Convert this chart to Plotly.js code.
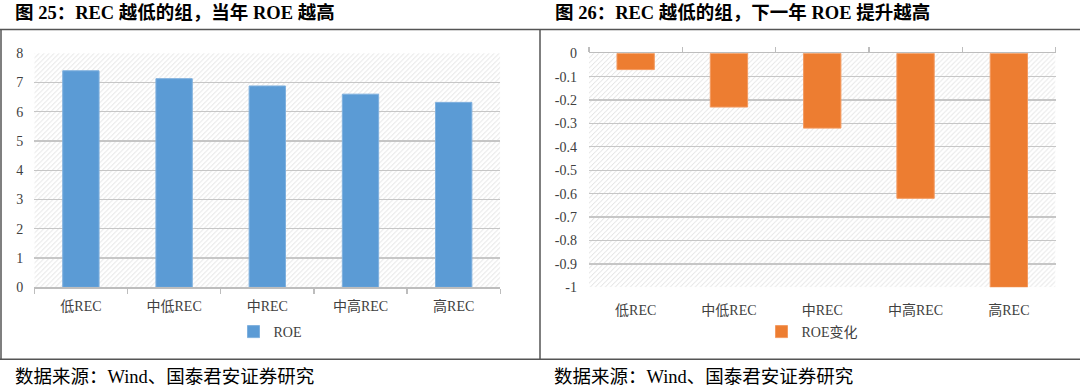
<!DOCTYPE html>
<html>
<head>
<meta charset="utf-8">
<script src="https://cdn.plot.ly/plotly-3.0.1.min.js"></script>
<style>
html,body{margin:0;padding:0;background:#fff;}
#chart{width:1080px;height:389px;}
</style>
</head>
<body>
<div id="chart"></div>
<script>
// ---- data ----
const categories = ['低REC', '中低REC', '中REC', '中高REC', '高REC'];
const roe = [7.40, 7.13, 6.88, 6.60, 6.32];
const roeChange = [-0.07, -0.23, -0.32, -0.62, -1.00];
const leftTickVals = [0, 1, 2, 3, 4, 5, 6, 7, 8];
const rightTickVals = [0, -0.1, -0.2, -0.3, -0.4, -0.5, -0.6, -0.7, -0.8, -0.9, -1];
const rightTickText = ['0', '-0.1', '-0.2', '-0.3', '-0.4', '-0.5', '-0.6', '-0.7', '-0.8', '-0.9', '-1'];
const leftTitle = '图 25：REC 越低的组，当年 ROE 越高';
const rightTitle = '图 26：REC 越低的组，下一年 ROE 提升越高';
const sourceText = '数据来源：Wind、国泰君安证券研究';
const leftSeriesName = 'ROE';
const rightSeriesName = 'ROE变化';

// ---- geometry helpers (pixels -> paper) ----
const W = 1080, H = 389;
const px = x => x / W;
const py = y => 1 - y / H;

const FONT = 'Liberation Serif, Noto Sans CJK SC, serif';
const GRID = '#c6c6c6';
const TXT = '#404040';

const leftDom = [px(34.3), px(500.3)];
const rightDom = [px(589), px(1055.5)];
const yDom = [py(287.3), py(53.2)];

function hatch(wpx, hpx) {
  const svg = '<svg xmlns="http://www.w3.org/2000/svg" width="' + wpx + '" height="' + hpx + '">' +
    '<defs><pattern id="p" width="5" height="5" patternUnits="userSpaceOnUse">' +
    '<path d="M-1,1 l2,-2 M0,5 l5,-5 M4,6 l2,-2" stroke="#d9d9d9" stroke-width="0.8"/></pattern></defs>' +
    '<rect width="100%" height="100%" fill="#ffffff"/><rect width="100%" height="100%" fill="url(#p)"/></svg>';
  return 'data:image/svg+xml;charset=utf-8,' + encodeURIComponent(svg);
}

const traces = [
  {
    type: 'bar', x: categories, y: roe, name: leftSeriesName,
    xaxis: 'x', yaxis: 'y', width: 0.39,
    marker: {color: '#5b9bd5', line: {color: '#7fb0de', width: 1}},
    legend: 'legend', hoverinfo: 'x+y'
  },
  {
    type: 'bar', x: categories, y: roeChange, name: rightSeriesName,
    xaxis: 'x2', yaxis: 'y2', width: 0.4,
    marker: {color: '#ed7d31', line: {color: '#f39a60', width: 1}},
    legend: 'legend2', hoverinfo: 'x+y'
  },
  {
    type: 'bar', x: categories, y: roeChange, name: 'axis-helper',
    xaxis: 'x3', yaxis: 'y2', width: 0.4,
    marker: {color: 'rgba(0,0,0,0)'}, showlegend: false, hoverinfo: 'skip'
  }
];

const axisFont = {family: FONT, size: 14, color: TXT};

const layout = {
  width: W, height: H,
  font: {family: FONT, size: 14, color: TXT},
  margin: {l: 0, r: 0, t: 0, b: 0},
  paper_bgcolor: '#ffffff',
  plot_bgcolor: 'rgba(0,0,0,0)',
  showlegend: true,
  barmode: 'overlay',
  xaxis: {
    domain: leftDom, anchor: 'y', type: 'category',
    categoryorder: 'array', categoryarray: categories,
    range: [-0.5, 4.5],
    showline: true, linecolor: '#bdbdbd', linewidth: 1.3,
    ticks: 'outside', tickson: 'boundaries', ticklen: 5, tickcolor: '#bdbdbd', tickwidth: 1.3,
    showgrid: false, tickfont: axisFont, ticklabelstandoff: 6
  },
  yaxis: {
    domain: yDom, anchor: 'x', range: [0, 8], tickvals: leftTickVals,
    showgrid: true, gridcolor: GRID, gridwidth: 1.3, zeroline: false,
    showline: false, ticks: '', tickfont: axisFont, ticklabelstandoff: 10
  },
  xaxis2: {
    domain: rightDom, anchor: 'y2', type: 'category',
    categoryorder: 'array', categoryarray: categories,
    range: [-0.5, 4.5],
    showline: false, ticks: '', showgrid: false,
    tickfont: axisFont, ticklabelstandoff: 13
  },
  xaxis3: {
    overlaying: 'x2', anchor: 'y2', side: 'top', type: 'category',
    categoryorder: 'array', categoryarray: categories,
    range: [-0.5, 4.5],
    showline: true, linecolor: '#bdbdbd', linewidth: 1.3,
    ticks: 'outside', tickson: 'boundaries', ticklen: 5, tickcolor: '#bdbdbd', tickwidth: 1.3,
    showgrid: false, showticklabels: false
  },
  yaxis2: {
    domain: yDom, anchor: 'x2', range: [-1, 0],
    tickvals: rightTickVals, ticktext: rightTickText,
    showgrid: true, gridcolor: GRID, gridwidth: 1.3, zeroline: false,
    showline: false, ticks: '', tickfont: axisFont, ticklabelstandoff: 11
  },
  legend: {
    orientation: 'h', x: px(270), xanchor: 'center', y: py(332), yanchor: 'middle',
    font: {family: FONT, size: 14, color: TXT}, bgcolor: 'rgba(0,0,0,0)',
    itemwidth: 30, traceorder: 'normal'
  },
  legend2: {
    orientation: 'h', x: px(812), xanchor: 'center', y: py(332), yanchor: 'middle',
    font: {family: FONT, size: 14, color: TXT}, bgcolor: 'rgba(0,0,0,0)',
    itemwidth: 30
  },
  images: [
    {source: hatch(466, 234), xref: 'paper', yref: 'paper', x: leftDom[0], y: yDom[1],
     sizex: leftDom[1] - leftDom[0], sizey: yDom[1] - yDom[0], sizing: 'stretch',
     xanchor: 'left', yanchor: 'top', layer: 'below'},
    {source: hatch(467, 234), xref: 'paper', yref: 'paper', x: rightDom[0], y: yDom[1],
     sizex: rightDom[1] - rightDom[0], sizey: yDom[1] - yDom[0], sizing: 'stretch',
     xanchor: 'left', yanchor: 'top', layer: 'below'}
  ],
  shapes: [
    {type: 'line', xref: 'paper', yref: 'paper', x0: 0, x1: 1, y0: py(29.5), y1: py(29.5), line: {color: '#555555', width: 1.5}},
    {type: 'line', xref: 'paper', yref: 'paper', x0: 0, x1: 1, y0: py(359.3), y1: py(359.3), line: {color: '#555555', width: 1.5}},
    {type: 'line', xref: 'paper', yref: 'paper', x0: px(1), x1: px(1), y0: py(29.5), y1: py(359.3), line: {color: '#555555', width: 1.5}},
    {type: 'line', xref: 'paper', yref: 'paper', x0: px(540), x1: px(540), y0: py(29.5), y1: py(359.3), line: {color: '#555555', width: 1.5}}
  ],
  annotations: [
    {text: '<b>' + leftTitle + '</b>', xref: 'paper', yref: 'paper', x: px(13), y: py(12.5),
     xanchor: 'left', yanchor: 'middle', showarrow: false, font: {family: FONT, size: 18.5, color: '#000'}},
    {text: '<b>' + rightTitle + '</b>', xref: 'paper', yref: 'paper', x: px(553), y: py(12.5),
     xanchor: 'left', yanchor: 'middle', showarrow: false, font: {family: FONT, size: 18.5, color: '#000'}},
    {text: sourceText, xref: 'paper', yref: 'paper', x: px(13), y: py(377),
     xanchor: 'left', yanchor: 'middle', showarrow: false, font: {family: FONT, size: 18.5, color: '#000'}},
    {text: sourceText, xref: 'paper', yref: 'paper', x: px(552), y: py(377),
     xanchor: 'left', yanchor: 'middle', showarrow: false, font: {family: FONT, size: 18.5, color: '#000'}}
  ]
};

Plotly.newPlot('chart', traces, layout, {staticPlot: true, displayModeBar: false});
</script>
</body>
</html>
